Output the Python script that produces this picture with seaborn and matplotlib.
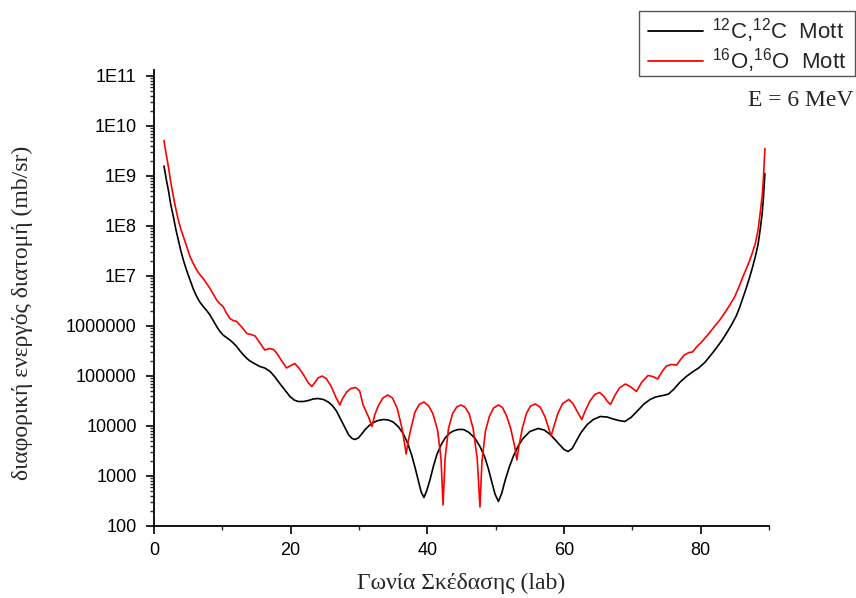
import numpy as np
import pandas as pd
import matplotlib
matplotlib.use("Agg")
import matplotlib.pyplot as plt
import matplotlib.ticker as mticker
from matplotlib.patches import Rectangle
import seaborn as sns

# ---- data (cross sections given as log10 of mb/sr) ----
c12_angle = [1.46, 1.8, 2.1, 2.45, 2.83, 3.2, 3.56, 3.9, 4.29, 4.8, 5.27, 5.75, 6.25, 6.7, 7.2,
             7.7, 8.2, 8.7, 9.17, 9.6, 10.1, 10.6, 11.1, 11.6, 12.1, 12.6, 13.1, 13.6, 14.05,
             14.8, 15.5, 16.2, 17.0, 17.7, 18.4, 19.2, 19.9, 20.5, 21.1, 21.9, 22.6, 23.3,
             24.0, 24.8, 25.5, 26.1, 26.7, 27.3, 27.9, 28.5, 29.0, 29.4, 29.9, 30.4, 30.9,
             31.5, 32.1, 32.8, 33.6, 34.3, 35.0, 35.8, 36.5, 37.1, 37.7, 38.2, 38.7, 39.1,
             39.5, 39.9, 40.4, 40.9, 41.4, 42.0, 42.6, 43.2, 43.8, 44.5, 45.3, 46.1, 47.0,
             47.7, 48.4, 48.9, 49.4, 49.9, 50.4, 50.9, 51.4, 52.0, 52.6, 53.3, 54.0, 55.0,
             56.2, 57.1, 58.0, 58.8, 59.4, 60.0, 60.6, 61.2, 61.8, 62.5, 63.4, 64.3, 65.3,
             66.3, 67.2, 68.0, 68.9, 69.8, 70.8, 71.7, 72.6, 73.4, 74.1, 74.8, 75.3, 76.1,
             77.0, 77.9, 78.9, 79.7, 80.6, 81.5, 82.3, 83.1, 83.8, 84.5, 85.2, 85.7, 86.2,
             86.7, 87.2, 87.6, 88.0, 88.4, 88.7, 89.0, 89.2, 89.4]
c12_log10_sigma = [9.2, 8.93, 8.72, 8.43, 8.19, 7.93, 7.72, 7.52, 7.32, 7.1, 6.92, 6.74, 6.59,
                   6.48, 6.39, 6.31, 6.22, 6.1, 5.99, 5.9, 5.82, 5.77, 5.72, 5.66, 5.59, 5.5,
                   5.42, 5.35, 5.3, 5.24, 5.19, 5.16, 5.09, 4.98, 4.85, 4.71, 4.59, 4.52,
                   4.49, 4.49, 4.51, 4.54, 4.55, 4.53, 4.48, 4.41, 4.30, 4.14, 3.98, 3.82,
                   3.75, 3.73, 3.76, 3.84, 3.93, 4.01, 4.07, 4.11, 4.13, 4.12, 4.08, 3.98,
                   3.84, 3.66, 3.42, 3.17, 2.90, 2.68, 2.57, 2.70, 2.93, 3.20, 3.43, 3.62,
                   3.76, 3.85, 3.90, 3.93, 3.93, 3.87, 3.75, 3.59, 3.38, 3.16, 2.90, 2.64,
                   2.49, 2.66, 2.92, 3.18, 3.40, 3.60, 3.75, 3.89, 3.95, 3.92, 3.83, 3.71,
                   3.62, 3.53, 3.49, 3.55, 3.70, 3.87, 4.03, 4.13, 4.19, 4.18, 4.14, 4.11,
                   4.09, 4.17, 4.31, 4.44, 4.53, 4.58, 4.60, 4.62, 4.64, 4.74, 4.88, 4.99,
                   5.09, 5.16, 5.27, 5.42, 5.56, 5.71, 5.86, 6.02, 6.2, 6.37, 6.57, 6.77,
                   6.99, 7.18, 7.39, 7.63, 7.92, 8.25, 8.59, 9.05]

o16_angle = [1.46, 1.8, 2.1, 2.45, 2.83, 3.2, 3.56, 3.9, 4.29, 4.8, 5.27, 5.75, 6.25, 6.7, 7.2,
             7.7, 8.2, 8.7, 9.17, 9.6, 10.1, 10.6, 11.1, 11.6, 12.1, 12.9, 13.6, 14.2, 14.8,
             15.5, 16.2, 16.9, 17.5, 18.0, 18.7, 19.4, 19.9, 20.6, 21.2, 21.9, 22.6, 23.1,
             23.6, 24.0, 24.6, 25.2, 25.9, 26.6, 27.2, 27.6, 28.2, 28.8, 29.5, 30.1, 30.6,
             31.4, 31.9, 32.3, 32.8, 33.5, 34.2, 34.9, 35.6, 36.3, 36.7, 36.9, 37.2, 37.6,
             38.2, 38.8, 39.5, 40.2, 40.8, 41.5, 42.0, 42.3, 42.6, 43.1, 43.7, 44.3, 44.9,
             45.5, 46.1, 46.7, 47.3, 47.7, 48.0, 48.5, 49.1, 49.7, 50.4, 51.0, 51.6, 52.2,
             52.8, 53.1, 53.4, 53.9, 54.5, 55.1, 55.8, 56.5, 57.2, 57.7, 58.1, 58.5, 59.1,
             59.8, 60.7, 61.3, 61.9, 62.6, 63.1, 63.8, 64.5, 65.2, 65.8, 66.3, 66.8, 67.4,
             68.1, 69.0, 69.8, 70.6, 71.4, 72.3, 73.0, 73.7, 74.4, 75.0, 75.7, 76.5, 77.0,
             77.6, 78.3, 78.8, 79.4, 80.2, 80.9, 81.6, 82.2, 82.8, 83.3, 83.8, 84.4, 85.0,
             85.6, 86.2, 86.7, 87.2, 87.6, 88.0, 88.4, 88.7, 89.0, 89.2, 89.4]
o16_log10_sigma = [9.71, 9.42, 9.19, 8.88, 8.59, 8.34, 8.12, 7.95, 7.79, 7.58, 7.39, 7.25,
                   7.12, 7.03, 6.95, 6.85, 6.75, 6.63, 6.52, 6.45, 6.39, 6.26, 6.15, 6.11,
                   6.09, 5.97, 5.85, 5.83, 5.80, 5.66, 5.52, 5.55, 5.53, 5.45, 5.30, 5.16,
                   5.20, 5.25, 5.16, 5.02, 4.86, 4.79, 4.88, 4.96, 5.0, 4.95, 4.80, 4.58,
                   4.42, 4.55, 4.68, 4.75, 4.77, 4.70, 4.42, 4.18, 3.99, 4.22, 4.40, 4.56,
                   4.62, 4.56, 4.35, 3.95, 3.62, 3.44, 3.70, 3.95, 4.28, 4.43, 4.48, 4.40,
                   4.25, 3.92, 3.35, 2.42, 3.35, 3.95, 4.25, 4.38, 4.42, 4.38, 4.25, 3.95,
                   3.35, 2.38, 3.3, 3.9, 4.2, 4.36, 4.42, 4.37, 4.2, 3.95, 3.58, 3.32, 3.6,
                   3.95, 4.25, 4.40, 4.44, 4.38, 4.19, 3.98, 3.80, 3.98, 4.25, 4.45, 4.53,
                   4.45, 4.30, 4.13, 4.30, 4.50, 4.63, 4.67, 4.60, 4.50, 4.43, 4.60, 4.76,
                   4.84, 4.78, 4.69, 4.88, 5.01, 4.99, 4.94, 5.1, 5.2, 5.23, 5.22, 5.32,
                   5.42, 5.47, 5.48, 5.58, 5.69, 5.80, 5.92, 6.02, 6.12, 6.22, 6.32, 6.45,
                   6.59, 6.78, 6.99, 7.15, 7.32, 7.48, 7.65, 7.92, 8.25, 8.6, 8.99, 9.55]

series_labels = [r"$^{12}$C,$^{12}$C  Mott", r"$^{16}$O,$^{16}$O  Mott"]
series_colors = ["#000000", "#ff0000"]
ytick_values = [1e2, 1e3, 1e4, 1e5, 1e6, 1e7, 1e8, 1e9, 1e10, 1e11]
ytick_labels = ["100", "1000", "10000", "100000", "1000000", "1E7", "1E8", "1E9", "1E10", "1E11"]
xtick_values = [0, 20, 40, 60, 80]
x_label = "Γωνία Σκέδασης (lab)"
y_label = "διαφορική ενεργός διατομή (mb/sr)"
energy_text = "E = 6 MeV"

df = pd.concat([
    pd.DataFrame({"angle": c12_angle, "sigma": np.power(10.0, c12_log10_sigma),
                  "series": series_labels[0]}),
    pd.DataFrame({"angle": o16_angle, "sigma": np.power(10.0, o16_log10_sigma),
                  "series": series_labels[1]}),
], ignore_index=True)

sns.set_style("ticks")
plt.rcParams["font.family"] = ["Liberation Sans", "DejaVu Sans"]
plt.rcParams["mathtext.fontset"] = "custom"
plt.rcParams["mathtext.rm"] = "Liberation Sans"
plt.rcParams["mathtext.it"] = "Liberation Sans:italic"

W, H = 856, 598
fig = plt.figure(figsize=(W / 100, H / 100), dpi=100)
ax = fig.add_axes([154 / W, 1 - 526 / H, 615 / W, 456 / H])

sns.lineplot(data=df, x="angle", y="sigma", hue="series", palette=series_colors,
             hue_order=series_labels, ax=ax, linewidth=1.2, sort=False, estimator=None,
             legend=False)

ax.set_yscale("log")
ax.set_xlim(0, 90)
ax.set_ylim(100, 10 ** (2 + 456 / 50))

ax.set_yticks(ytick_values)
ax.set_yticklabels(ytick_labels)
ax.yaxis.set_minor_locator(mticker.LogLocator(base=10, subs=np.arange(2, 10), numticks=100))
ax.yaxis.set_minor_formatter(mticker.NullFormatter())
ax.set_xticks(xtick_values)
ax.xaxis.set_minor_locator(mticker.MultipleLocator(10))

for s in ["top", "right"]:
    ax.spines[s].set_visible(False)
for s in ["left", "bottom"]:
    ax.spines[s].set_linewidth(1.3)
    ax.spines[s].set_color("black")

ax.tick_params(axis="both", which="major", direction="out", length=5.5, width=1.2,
               labelsize=13, colors="black")
ax.tick_params(axis="both", which="minor", direction="out", length=3, width=1.0)
ax.tick_params(axis="y", which="major", pad=7)
ax.tick_params(axis="x", which="major", pad=6)

ax.set_xlabel(x_label, family="Liberation Serif", fontsize=17)
ax.set_ylabel(y_label, family="Liberation Serif", fontsize=17)
ax.xaxis.set_label_coords(0.499, -0.102)
ax.yaxis.set_label_coords(-0.197, 0.467)

# legend frame drawn as a separate rectangle (box edges as in the reference)
frame = Rectangle((639 / W, 1 - 76 / H), (855 - 639) / W, (76 - 10.7) / H,
                  transform=fig.transFigure, facecolor="white", edgecolor="#555555",
                  linewidth=1.0, zorder=5)
fig.patches.append(frame)

handles = [plt.Line2D([], [], color=c, lw=1.3) for c in series_colors]
leg = fig.legend(handles, series_labels, loc="upper right",
                 bbox_to_anchor=(849 / W, 1 - 13.5 / H), frameon=False,
                 fontsize=16, handlelength=2.45, borderpad=0.12, labelspacing=0.05,
                 handletextpad=0.4, borderaxespad=0)
leg.set_zorder(6)

fig.text(853 / W, 1 - 100 / H, energy_text, family="Liberation Serif", fontsize=17,
         ha="right", va="center")

fig.savefig("out.png", dpi=100)
